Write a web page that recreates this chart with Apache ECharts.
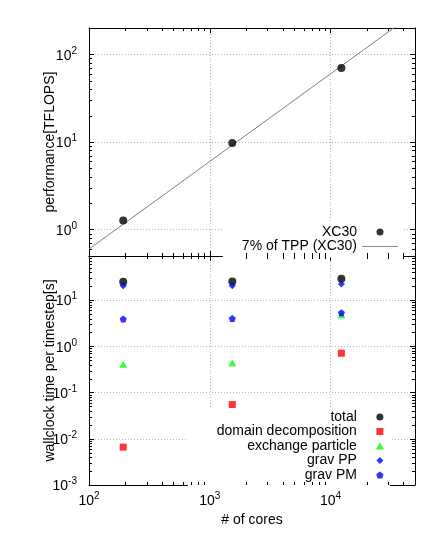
<!DOCTYPE html>
<html>
<head>
<meta charset="utf-8">
<script src="https://cdn.jsdelivr.net/npm/echarts@6/dist/echarts.min.js"></script>
<style>
  html, body { margin: 0; padding: 0; background: #fff; }
  #chart { width: 436px; height: 556px; }
</style>
</head>
<body>
<div id="chart"></div>
<script>
// number of cores for every run
const cores = [192, 1536, 12288];

// top panel: performance
const perfXC30 = [1.27, 9.75, 70];
const tppCores = [100, 50000];
const tppTflops = [0.6, 300];

// bottom panel: wallclock time per timestep [s]
const tTotal = [24.9, 25.4, 28.9];
const tDomain = [0.0066, 0.055, 0.71];
const tExchange = [0.41, 0.44, 4.8];
const tGravPP = [20.4, 20.4, 22.2];
const tGravPM = [3.9, 4.0, 5.3];

// axis ranges and major ticks
const xRange = [100, 50000];
const yTopRange = [0.5, 200];
const yBotRange = [0.001, 90];
const xMajor = [100, 1000, 10000];
const yTopMajor = [1, 10, 100];
const yBotMajor = [0.001, 0.01, 0.1, 1, 10];

const FONT = 'Liberation Sans';

function zip(xs, ys) {
    return xs.map((x, i) => [x, ys[i]]);
}

// 2..9 times every decade, inside (min, max)
function minorTicks(range) {
    const out = [];
    for (let e = Math.floor(Math.log10(range[0])); e <= Math.ceil(Math.log10(range[1])); e++) {
        for (let m = 2; m <= 9; m++) {
            const v = +(m * Math.pow(10, e)).toPrecision(6);
            if (v > range[0] * 1.0001 && v < range[1] * 0.9999) out.push(v);
        }
    }
    return out;
}

function powLabel(v) {
    const l = Math.log10(v);
    const e = Math.round(l);
    if (Math.abs(l - e) > 1e-6) return '';
    return '{b|10}{sup|' + e + '}';
}

const labelRich = {
    b: { fontSize: 14, fontFamily: FONT, color: '#000', verticalAlign: 'bottom' },
    sup: { fontSize: 10, fontFamily: FONT, color: '#000', verticalAlign: 'bottom', padding: [0, 0, 7, 0] }
};

const gridLine = { show: true, lineStyle: { color: '#b4b4b4', type: [1, 2], width: 1 } };

function logAxis(range, grid, pos, ticks, extra) {
    return Object.assign({
        type: 'log',
        logBase: 10,
        min: range[0],
        max: range[1],
        gridIndex: grid,
        position: pos,
        axisLine: { show: true, onZero: false, lineStyle: { color: '#000', width: 1 } },
        axisTick: { show: true, inside: true, length: 5, customValues: ticks, lineStyle: { color: '#000' } },
        minorTick: { show: false },
        splitLine: { show: false },
        axisLabel: { show: false }
    }, extra || {});
}

const nameStyle = { fontSize: 14, fontFamily: FONT, color: '#000' };

function labelCfg(ticks, margin) {
    return { show: true, customValues: ticks, formatter: powLabel, rich: labelRich, margin: margin };
}

// short inside ticks on both sides of a panel, placed through the axes
function minorTickSeries(grid, xr, yr, dir) {
    const vals = minorTicks(dir === 'x' ? xr : yr);
    return {
        type: 'custom',
        xAxisIndex: grid * 2,
        yAxisIndex: grid * 2,
        silent: true,
        clip: false,
        z: 10,
        data: vals.map(v => dir === 'x' ? [v, yr[0]] : [xr[0], v]),
        renderItem: function (params, api) {
            const v = api.value(dir === 'x' ? 0 : 1);
            const st = { stroke: '#000', lineWidth: 1 };
            if (dir === 'x') {
                const a = api.coord([v, yr[0]]);
                const b = api.coord([v, yr[1]]);
                const x = Math.round(a[0]) + 0.5;
                return { type: 'group', children: [
                    { type: 'line', shape: { x1: x, y1: a[1], x2: x, y2: a[1] - 3 }, style: st },
                    { type: 'line', shape: { x1: x, y1: b[1], x2: x, y2: b[1] + 3 }, style: st }
                ] };
            }
            const a = api.coord([xr[0], v]);
            const b = api.coord([xr[1], v]);
            const y = Math.round(a[1]) + 0.5;
            return { type: 'group', children: [
                { type: 'line', shape: { x1: a[0], y1: y, x2: a[0] + 3, y2: y }, style: st },
                { type: 'line', shape: { x1: b[0], y1: y, x2: b[0] - 3, y2: y }, style: st }
            ] };
        }
    };
}

const chart = echarts.init(document.getElementById('chart'), null, { renderer: 'canvas' });

const pentagon = 'path://M0,-1L0.951,-0.309L0.588,0.809L-0.588,0.809L-0.951,-0.309Z';
const diamond = 'path://M0,-1L1,0L0,1L-1,0Z';
const square = 'path://M0,0H1V1H0Z';
const triangle = 'path://M1,0L2,1.7L0,1.7Z';
const lineIcon = 'path://M0,0H36V1H0Z';

const option = {
    animation: false,
    backgroundColor: '#fff',
    textStyle: { fontFamily: FONT },
    grid: [
        { left: 89, top: 28, width: 326, height: 228 },
        { left: 89, top: 256, width: 326, height: 229 }
    ],
    xAxis: [
        logAxis(xRange, 0, 'bottom', xMajor, { splitLine: gridLine }),
        logAxis(xRange, 0, 'top', xMajor),
        logAxis(xRange, 1, 'bottom', xMajor, {
            splitLine: gridLine,
            name: '# of cores',
            nameLocation: 'middle',
            nameGap: 28,
            nameMoveOverlap: false,
            nameTextStyle: nameStyle,
            axisLabel: labelCfg(xMajor, 6)
        }),
        logAxis(xRange, 1, 'top', xMajor)
    ],
    yAxis: [
        logAxis(yTopRange, 0, 'left', yTopMajor, {
            splitLine: gridLine,
            name: 'performance[TFLOPS]',
            nameLocation: 'middle',
            nameGap: 32,
            nameMoveOverlap: false,
            nameTextStyle: nameStyle,
            axisLabel: labelCfg(yTopMajor, 12)
        }),
        logAxis(yTopRange, 0, 'right', yTopMajor),
        logAxis(yBotRange, 1, 'left', yBotMajor, {
            splitLine: gridLine,
            name: 'wallclock time per timestep[s]',
            nameLocation: 'middle',
            nameGap: 32,
            nameMoveOverlap: false,
            nameTextStyle: nameStyle,
            axisLabel: labelCfg(yBotMajor, 12)
        }),
        logAxis(yBotRange, 1, 'right', yBotMajor)
    ],
    legend: [
        {
            data: ['XC30', { name: '7% of TPP (XC30)', icon: lineIcon }],
            orient: 'vertical',
            align: 'right',
            right: 32,
            top: 221,
            padding: [4, 6, 4, 19],
            itemGap: 0.5,
            itemWidth: 36,
            itemHeight: 7,
            backgroundColor: '#fff',
            selectedMode: false,
            textStyle: { fontSize: 14, fontFamily: FONT, color: '#000', lineHeight: 14 }
        },
        {
            data: ['total', 'domain decomposition', 'exchange particle', 'grav PP', 'grav PM'],
            orient: 'vertical',
            align: 'right',
            right: 46,
            top: 409,
            padding: [1, 6, 4, 29],
            itemGap: 0.5,
            itemWidth: 36,
            itemHeight: 7,
            backgroundColor: '#fff',
            selectedMode: false,
            textStyle: { fontSize: 14, fontFamily: FONT, color: '#000', lineHeight: 14 }
        }
    ],
    series: [
        minorTickSeries(0, xRange, yTopRange, 'x'),
        minorTickSeries(0, xRange, yTopRange, 'y'),
        minorTickSeries(1, xRange, yBotRange, 'x'),
        minorTickSeries(1, xRange, yBotRange, 'y'),
        {
            name: 'XC30',
            type: 'scatter',
            xAxisIndex: 0,
            yAxisIndex: 0,
            symbol: 'circle',
            symbolSize: 8,
            itemStyle: { color: '#000' },
            data: zip(cores, perfXC30),
            z: 5
        },
        {
            name: '7% of TPP (XC30)',
            type: 'line',
            xAxisIndex: 0,
            yAxisIndex: 0,
            symbol: 'none',
            clip: true,
            lineStyle: { color: '#7f7f7f', width: 1 },
            itemStyle: { color: '#8c8c8c' },
            data: zip(tppCores, tppTflops),
            z: 4
        },
        {
            name: 'total',
            type: 'scatter',
            xAxisIndex: 2,
            yAxisIndex: 2,
            symbol: 'circle',
            symbolSize: 8,
            itemStyle: { color: '#000' },
            data: zip(cores, tTotal)
        },
        {
            name: 'domain decomposition',
            type: 'scatter',
            xAxisIndex: 2,
            yAxisIndex: 2,
            symbol: square,
            symbolSize: 7,
            itemStyle: { color: '#ff0000' },
            data: zip(cores, tDomain)
        },
        {
            name: 'exchange particle',
            type: 'scatter',
            xAxisIndex: 2,
            yAxisIndex: 2,
            symbol: triangle,
            symbolSize: [8, 7],
            itemStyle: { color: '#00ff00' },
            data: zip(cores, tExchange)
        },
        {
            name: 'grav PP',
            type: 'scatter',
            xAxisIndex: 2,
            yAxisIndex: 2,
            symbol: diamond,
            symbolSize: 7,
            itemStyle: { color: '#0000ff' },
            data: zip(cores, tGravPP)
        },
        {
            name: 'grav PM',
            type: 'scatter',
            xAxisIndex: 2,
            yAxisIndex: 2,
            symbol: pentagon,
            symbolSize: 7,
            itemStyle: { color: '#0000ff' },
            data: zip(cores, tGravPM)
        }
    ]
};

chart.setOption(option);
</script>
</body>
</html>
